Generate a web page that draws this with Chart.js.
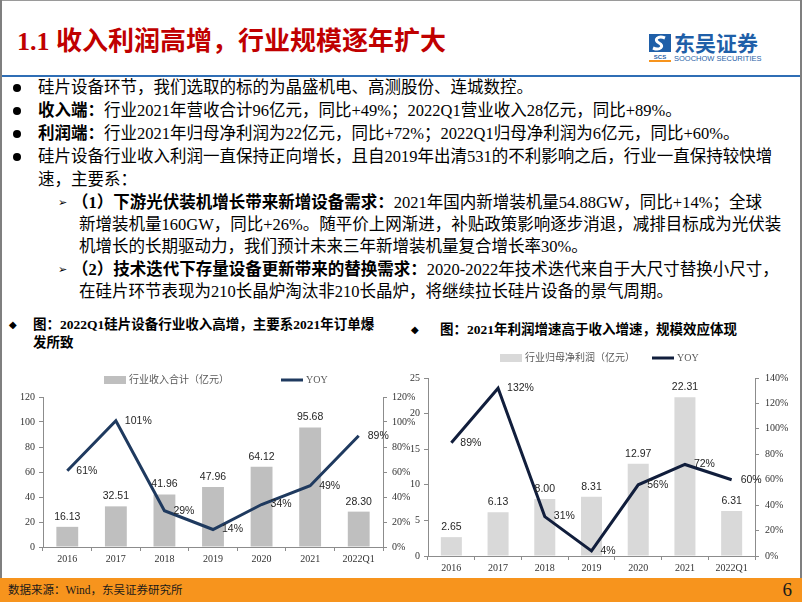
<!DOCTYPE html>
<html>
<head>
<meta charset="utf-8">
<script src="https://cdn.jsdelivr.net/npm/chart.js@4.4.1/dist/chart.umd.min.js"></script>
<style>
  html, body { margin: 0; padding: 0; background: #fff; }
  #slide { position: relative; width: 802px; height: 602px; overflow: hidden; background: #fff;
    font-family: "Liberation Serif", "Noto Sans CJK SC", serif; color: #000; }
  .frameL { position: absolute; left: 0; top: 0; width: 2px; height: 602px; background: #7f7f7f; }
  .frameR { position: absolute; right: 0; top: 0; width: 2px; height: 602px; background: #7f7f7f; }
  .frameT { position: absolute; left: 0; top: 0; width: 802px; height: 1px; background: #9a9a9a; }
  #title { position: absolute; left: 17px; top: 26px; font-size: 26px; font-weight: bold; color: #c00000;
    white-space: nowrap; line-height: 32px; }
  #blueLine { position: absolute; left: 2px; top: 75px; width: 798px; height: 2px; background: #2f6eb5; }
  #logo { position: absolute; left: 648px; top: 32px; width: 120px; height: 32px; }
  #logo .cn { position: absolute; left: 26px; top: -2px; font-family: "Noto Sans CJK SC", sans-serif; font-weight: bold;
    font-size: 21px; color: #1f5fa8; letter-spacing: 0px; line-height: 24px; white-space: nowrap; }
  #logo .en { position: absolute; left: 26px; top: 22px; font-family: "Liberation Sans", sans-serif; font-size: 7.5px;
    color: #1f5fa8; white-space: nowrap; }
  .line { position: absolute; white-space: nowrap; font-size: 16.5px; line-height: 22px; height: 22px; }
  .dot { position: absolute; width: 8px; height: 8px; border-radius: 50%; background: #000; }
  .arrow { position: absolute; font-family: "DejaVu Sans", sans-serif; font-size: 11px; line-height: 22px; }
  .ctitle { position: absolute; font-size: 13.5px; font-weight: bold; line-height: 18px; white-space: nowrap; }
  .diamond { position: absolute; font-family: "DejaVu Sans", sans-serif; font-size: 10px; line-height: 18px; }
  canvas { position: absolute; }
  #footer { position: absolute; left: 0; top: 578px; width: 802px; height: 24px; background: #f7941d; }
  #footer .src { position: absolute; left: 8px; top: 4px; font-size: 11.5px; line-height: 16px; color: #1a1a1a; white-space: nowrap; }
  #footer .pg { position: absolute; right: 10px; top: 0px; font-size: 19px; line-height: 24px; color: #1a1a1a; }
</style>
</head>
<body>
<div id="slide">
  <div class="frameT"></div>
  <div id="title">1.1 收入利润高增，行业规模逐年扩大</div>
  <div id="logo">
    <svg width="24" height="30" style="position:absolute;left:0;top:0">
      <rect x="1" y="2" width="22" height="18" fill="#1f5fa8"/>
      <path d="M17 6 C10 3, 5 8, 11 11 C17 14, 12 19, 5 16" stroke="#fff" stroke-width="3" fill="none"/>
      <text x="12" y="27" font-size="6" font-family="Liberation Sans" font-weight="bold" fill="#1f5fa8" text-anchor="middle">SCS</text>
      <rect x="1" y="28" width="22" height="2" fill="#f7941d"/>
    </svg>
    <div class="cn">东吴证券</div>
    <div class="en">SOOCHOW SECURITIES</div>
  </div>
  <div id="blueLine"></div>

  <div class="dot" style="left:13px;top:84px"></div>
  <div class="line" style="left:38px;top:77px">硅片设备环节，我们选取的标的为晶盛机电、高测股份、连城数控。</div>
  <div class="dot" style="left:13px;top:107px"></div>
  <div class="line" style="left:38px;top:100px"><b>收入端：</b>行业2021年营收合计96亿元，同比+49%；2022Q1营业收入28亿元，同比+89%。</div>
  <div class="dot" style="left:13px;top:130px"></div>
  <div class="line" style="left:38px;top:123px"><b>利润端：</b>行业2021年归母净利润为22亿元，同比+72%；2022Q1归母净利润为6亿元，同比+60%。</div>
  <div class="dot" style="left:13px;top:153px"></div>
  <div class="line" style="left:38px;top:146px">硅片设备行业收入利润一直保持正向增长，且自2019年出清531的不利影响之后，行业一直保持较快增</div>
  <div class="line" style="left:38px;top:169px">速，主要系：</div>
  <div class="arrow" style="left:58px;top:192px">➢</div>
  <div class="line" style="left:72px;top:192px"><b>（1）下游光伏装机增长带来新增设备需求：</b>2021年国内新增装机量54.88GW，同比+14%；全球</div>
  <div class="line" style="left:79px;top:214px">新增装机量160GW，同比+26%。随平价上网渐进，补贴政策影响逐步消退，减排目标成为光伏装</div>
  <div class="line" style="left:79px;top:236px">机增长的长期驱动力，我们预计未来三年新增装机量复合增长率30%。</div>
  <div class="arrow" style="left:58px;top:259px">➢</div>
  <div class="line" style="left:72px;top:259px"><b>（2）技术迭代下存量设备更新带来的替换需求：</b>2020-2022年技术迭代来自于大尺寸替换小尺寸，</div>
  <div class="line" style="left:79px;top:281px">在硅片环节表现为210长晶炉淘汰非210长晶炉，将继续拉长硅片设备的景气周期。</div>

  <div class="diamond" style="left:9px;top:316px">◆</div>
  <div class="ctitle" style="left:33px;top:316px">图：2022Q1硅片设备行业收入高增，主要系2021年订单爆<br>发所致</div>
  <div class="diamond" style="left:411px;top:321px">◆</div>
  <div class="ctitle" style="left:440px;top:321px">图：2021年利润增速高于收入增速，规模效应体现</div>

  <canvas id="revChart" width="420" height="210" style="left:0px;top:365px"></canvas>
  <canvas id="profitChart" width="402" height="232" style="left:400px;top:345px"></canvas>

  <div class="frameL"></div>
  <div class="frameR"></div>
  <div id="footer">
    <div class="src">数据来源：Wind，东吴证券研究所</div>
    <div class="pg">6</div>
  </div>
</div>

<script>
// data
const categories = ['2016', '2017', '2018', '2019', '2020', '2021', '2022Q1'];
const revenue = [16.13, 32.51, 41.96, 47.96, 64.12, 95.68, 28.30];   // 行业收入合计（亿元）
const revenueYoy = [61, 101, 29, 14, 34, 49, 89];                     // %
const profit = [2.65, 6.13, 8.00, 8.31, 12.97, 22.31, 6.31];          // 行业归母净利润（亿元）
const profitYoy = [89, 132, 31, 4, 56, 72, 60];                       // %

const tickFont = { family: '"Liberation Serif", "Noto Sans CJK SC", serif', size: 10 };
const axisGray = '#8c8c8c';

// value labels: bar values above the bars, YOY to the right of each point
const valueLabels = {
  id: 'valueLabels',
  afterDatasetsDraw(chart) {
    const ctx = chart.ctx;
    ctx.save();
    ctx.font = '10.5px "Liberation Sans", Arial, sans-serif';
    ctx.fillStyle = '#262626';
    ctx.textBaseline = 'middle';
    chart.data.datasets.forEach((ds, i) => {
      const meta = chart.getDatasetMeta(i);
      meta.data.forEach((el, j) => {
        if (ds.type === 'line') {
          ctx.textAlign = 'left';
          ctx.fillText(ds.data[j] + '%', el.x + 9, el.y);
        } else {
          ctx.textAlign = 'center';
          ctx.fillText(ds.data[j].toFixed(2), el.x, el.y - 10);
        }
      });
    });
    ctx.restore();
  }
};

// one-row legend with wide spacing like the original
const rowLegend = {
  id: 'rowLegend',
  afterDraw(chart, args, opts) {
    const ctx = chart.ctx;
    ctx.save();
    ctx.font = '10px "Liberation Serif", "Noto Sans CJK SC", serif';
    ctx.textBaseline = 'middle';
    ctx.textAlign = 'left';
    let x = opts.x;
    const y = opts.y;
    chart.data.datasets.forEach(ds => {
      if (ds.type === 'line') {
        ctx.strokeStyle = ds.borderColor;
        ctx.lineWidth = 3;
        ctx.beginPath();
        ctx.moveTo(x, y);
        ctx.lineTo(x + 22, y);
        ctx.stroke();
      } else {
        ctx.fillStyle = ds.backgroundColor;
        ctx.fillRect(x, y - 4, 22, 8);
      }
      x += 25;
      ctx.fillStyle = '#595959';
      ctx.fillText(ds.label, x, y);
      x += ctx.measureText(ds.label).width + opts.gap;
    });
    ctx.restore();
  }
};

function buildChart(id, o) {
  return new Chart(document.getElementById(id), {
    type: 'bar',
    data: {
      labels: categories,
      datasets: [
        {
          label: o.barLabel,
          data: o.bars,
          backgroundColor: o.barColor,
          barPercentage: 0.45,
          categoryPercentage: 1,
          yAxisID: 'y',
          order: 1
        },
        {
          type: 'line',
          label: 'YOY',
          data: o.yoy,
          borderColor: o.lineColor,
          backgroundColor: o.lineColor,
          borderWidth: 3,
          pointRadius: 0,
          tension: 0,
          yAxisID: 'y1',
          order: 0
        }
      ]
    },
    options: {
      responsive: false,
      animation: false,
      layout: { padding: { top: o.top, left: 0, right: 0, bottom: 0 } },
      plugins: {
        legend: { display: false },
        tooltip: { enabled: false },
        rowLegend: o.legend
      },
      scales: {
        x: {
          grid: { drawOnChartArea: false, tickLength: 4, color: axisGray },
          border: { color: axisGray },
          ticks: { font: tickFont, color: '#333', padding: 2, maxRotation: 0 },
          afterFit: s => { s.height = o.xHeight; }
        },
        y: {
          position: 'left',
          min: 0, max: o.leftMax,
          grid: { drawOnChartArea: false, tickLength: 4, color: axisGray },
          border: { color: axisGray },
          ticks: { stepSize: o.leftStep, font: tickFont, color: '#333', padding: o.leftPad },
          afterFit: s => { s.width = o.leftWidth; }
        },
        y1: {
          position: 'right',
          min: 0, max: o.rightMax,
          grid: { drawOnChartArea: false, tickLength: 4, color: axisGray },
          border: { color: axisGray },
          ticks: { stepSize: 20, font: tickFont, color: '#333', padding: o.rightPad, callback: v => v + '%' },
          afterFit: s => { s.width = o.rightWidth; }
        }
      }
    },
    plugins: [valueLabels, rowLegend]
  });
}

buildChart('revChart', {
  barLabel: '行业收入合计（亿元）',
  bars: revenue,
  yoy: revenueYoy,
  barColor: '#bfbfbf',
  lineColor: '#1f3a5f',
  leftMax: 120, leftStep: 20, rightMax: 120,
  top: 32, xHeight: 28,
  leftWidth: 43, leftPad: 4,
  rightWidth: 37, rightPad: 5,
  legend: { x: 104, y: 15, gap: 52 }
});

buildChart('profitChart', {
  barLabel: '行业归母净利润（亿元）',
  bars: profit,
  yoy: profitYoy,
  barColor: '#d9d9d9',
  lineColor: '#111e3c',
  leftMax: 25, leftStep: 5, rightMax: 140,
  top: 33, xHeight: 21,
  leftWidth: 28, leftPad: 4,
  rightWidth: 47, rightPad: 6,
  legend: { x: 100, y: 13, gap: 17 }
});
</script>
</body>
</html>
